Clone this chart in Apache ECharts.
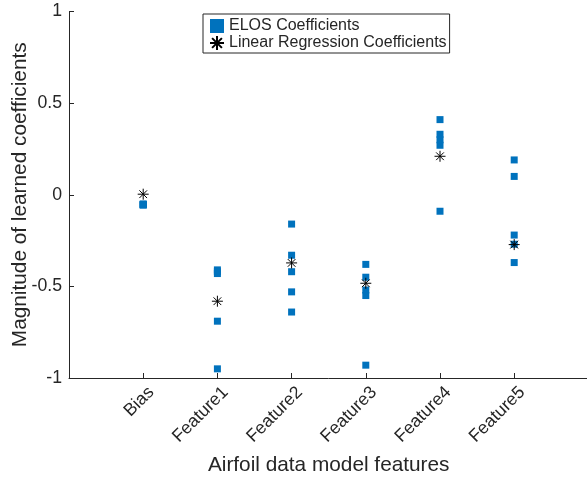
<!DOCTYPE html>
<html>
<head>
<meta charset="utf-8">
<script src="https://cdn.jsdelivr.net/npm/echarts@6/dist/echarts.min.js"></script>
<style>
  html, body { margin: 0; padding: 0; background: #fff; }
  #chart { width: 587px; height: 479px; }
</style>
</head>
<body>
<div id="chart"></div>
<script>
// categories on the x axis (placed at 1..6 on a 0..7 axis, like MATLAB)
const categories = ['Bias', 'Feature1', 'Feature2', 'Feature3', 'Feature4', 'Feature5'];

// ELOS coefficients, several runs per feature
const elosBias     = [-0.050, -0.053, -0.054, -0.055, -0.056];
const elosFeature1 = [-0.41, -0.42, -0.43, -0.69, -0.95];
const elosFeature2 = [-0.16, -0.33, -0.42, -0.53, -0.64];
const elosFeature3 = [-0.38, -0.45, -0.52, -0.55, -0.93];
const elosFeature4 = [0.41, 0.33, 0.30, 0.27, -0.09];
const elosFeature5 = [0.19, 0.10, -0.22, -0.27, -0.37];
const elosValues = [elosBias, elosFeature1, elosFeature2, elosFeature3, elosFeature4, elosFeature5];

// linear regression coefficient per feature
const linearValues = [0.003, -0.581, -0.372, -0.483, 0.210, -0.272];

// y tick labels
const yTicks = [-1, -0.5, 0, 0.5, 1];

const textColor = '#262626';
const fontFamily = '"Liberation Sans", Arial, Helvetica, sans-serif';
// asterisk marker drawn as strokes
const asterisk = 'path://M0,5L10,5M5,0L5,10M1.5,1.5L8.5,8.5M1.5,8.5L8.5,1.5';

const positions = categories.map((c, i) => i + 1);

const elosData = [];
elosValues.forEach((vals, i) => {
  vals.forEach(v => elosData.push([positions[i], v]));
});
const linearData = linearValues.map((v, i) => [positions[i], v]);

const chart = echarts.init(document.getElementById('chart'));

chart.setOption({
  animation: false,
  backgroundColor: '#fff',
  textStyle: { fontFamily: fontFamily, color: textColor },
  grid: {
    left: 69,
    top: 11.5,
    width: 519.4,
    height: 366.5,
    outerBoundsMode: 'none'
  },
  legend: {
    orient: 'vertical',
    left: 203,
    top: 14,
    padding: [4, 3, 2, 6],
    itemGap: 1,
    itemWidth: 14,
    itemHeight: 14,
    borderColor: '#262626',
    borderWidth: 1,
    backgroundColor: '#fff',
    textStyle: { fontSize: 16, color: textColor, fontFamily: fontFamily, lineHeight: 16 },
    data: ['ELOS Coefficients', 'Linear Regression Coefficients']
  },
  xAxis: {
    type: 'value',
    min: 0,
    max: 7,
    interval: 1,
    name: 'Airfoil data model features',
    nameLocation: 'middle',
    nameGap: 77,
    nameMoveOverlap: false,
    nameTextStyle: { fontSize: 20.8, color: textColor, fontFamily: fontFamily, verticalAlign: 'top' },
    splitLine: { show: false },
    axisLine: { onZero: false, lineStyle: { color: textColor, width: 1 } },
    axisTick: { inside: true, length: 5, customValues: positions, lineStyle: { color: textColor } },
    axisLabel: {
      customValues: positions,
      formatter: v => categories[v - 1] || '',
      rotate: 45,
      margin: 3.4,
      align: 'right',
      verticalAlign: 'top',
      lineHeight: 23,
      fontSize: 17.7,
      color: textColor,
      fontFamily: fontFamily
    }
  },
  yAxis: {
    type: 'value',
    min: yTicks[0],
    max: yTicks[yTicks.length - 1],
    interval: 0.5,
    name: 'Magnitude of learned coefficients',
    nameLocation: 'middle',
    nameGap: 38,
    nameMoveOverlap: false,
    nameTextStyle: { fontSize: 20.8, color: textColor, fontFamily: fontFamily },
    splitLine: { show: false },
    axisLine: { show: true, onZero: false, lineStyle: { color: textColor, width: 1 } },
    axisTick: { show: true, inside: true, length: 5, lineStyle: { color: textColor } },
    axisLabel: {
      margin: 7,
      fontSize: 17.7,
      color: textColor,
      fontFamily: fontFamily,
      formatter: v => String(v)
    }
  },
  series: [
    {
      name: 'ELOS Coefficients',
      type: 'scatter',
      symbol: 'rect',
      symbolSize: 7,
      itemStyle: { color: '#0072BD', opacity: 1 },
      data: elosData,
      z: 2
    },
    {
      name: 'Linear Regression Coefficients',
      type: 'scatter',
      symbol: asterisk,
      symbolSize: 11,
      itemStyle: { color: '#000', borderColor: '#000', borderWidth: 1, opacity: 1 },
      data: linearData,
      z: 3
    }
  ]
});
</script>
</body>
</html>
